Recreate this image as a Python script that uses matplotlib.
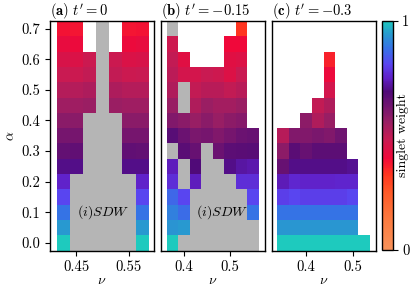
import numpy as np
import matplotlib
matplotlib.use("Agg")
import matplotlib.pyplot as plt
from matplotlib.colors import LinearSegmentedColormap, ListedColormap

plt.rcParams['font.family'] = ['cmr10']
plt.rcParams['mathtext.fontset'] = 'cm'
plt.rcParams['axes.unicode_minus'] = False
plt.rcParams['font.size'] = 10
plt.rcParams['axes.formatter.use_mathtext'] = True

G = -1.0      # (i)SDW
W = np.nan    # no data

alpha = [0.0, 0.05, 0.1, 0.15, 0.2, 0.25, 0.3, 0.35, 0.4, 0.45, 0.5, 0.55, 0.6, 0.65, 0.7]

nu_a = [0.425, 0.45, 0.475, 0.5, 0.525, 0.55, 0.575]
weight_a = [
    [1.00, G, G, G, G, G, 1.00],
    [0.94, G, G, G, G, G, 0.94],
    [0.88, G, G, G, G, G, 0.88],
    [0.81, G, G, G, G, G, 0.81],
    [0.75, G, G, G, G, G, 0.75],
    [0.70, 0.70, G, G, G, 0.70, 0.70],
    [0.655, 0.66, G, G, G, 0.66, 0.655],
    [0.62, 0.62, G, G, G, 0.62, 0.62],
    [0.585, 0.585, G, G, G, 0.585, 0.585],
    [0.55, 0.55, 0.555, G, 0.555, 0.55, 0.55],
    [0.515, 0.515, 0.525, G, 0.525, 0.515, 0.515],
    [0.48, 0.475, 0.49, G, 0.49, 0.475, 0.48],
    [0.45, 0.445, 0.475, G, 0.475, 0.445, 0.45],
    [0.415, 0.41, W, G, W, 0.41, 0.415],
    [0.385, 0.38, W, G, W, 0.38, 0.385],
]

nu_b = [0.375, 0.4, 0.425, 0.45, 0.475, 0.5, 0.525, 0.55]
weight_b = [
    [1.00, G, G, G, G, G, G, G],
    [0.93, 0.94, G, G, G, G, G, G],
    [0.90, 0.87, G, G, G, G, G, 0.88],
    [0.86, 0.81, G, G, G, G, G, 0.81],
    [0.77, G, 0.74, G, G, G, 0.77, 0.77],
    [0.74, G, 0.69, G, G, 0.70, 0.72, 0.73],
    [G, 0.67, 0.645, G, 0.64, 0.665, 0.67, 0.675],
    [0.675, 0.64, 0.61, 0.62, 0.60, 0.62, 0.64, 0.645],
    [0.60, 0.585, 0.56, 0.585, 0.56, 0.58, 0.59, W],
    [0.56, G, 0.52, 0.555, 0.54, 0.54, 0.555, W],
    [0.52, G, 0.49, 0.505, 0.505, 0.49, 0.505, W],
    [0.50, 0.46, 0.46, 0.48, 0.47, 0.44, 0.48, W],
    [0.49, 0.43, W, W, W, 0.43, 0.44, W],
    [0.47, W, W, W, W, 0.40, 0.40, W],
    [G, W, W, W, W, W, 0.33, W],
]

nu_c = [0.35, 0.375, 0.4, 0.425, 0.45, 0.475, 0.5, 0.525]
weight_c = [
    [1.00, 1.00, 1.00, 1.00, 1.00, 1.00, 1.00, 1.00],
    [0.935, 0.935, 0.935, 0.935, 0.935, 0.935, 0.935, W],
    [0.88, 0.88, 0.88, 0.88, 0.88, 0.88, 0.88, W],
    [0.80, 0.81, 0.80, 0.80, 0.80, 0.80, 0.81, W],
    [0.735, 0.76, 0.75, 0.75, 0.75, 0.755, 0.755, W],
    [0.645, 0.70, 0.70, 0.70, 0.70, 0.70, 0.71, W],
    [0.58, 0.67, 0.645, 0.665, 0.665, 0.665, W, W],
    [0.51, 0.60, 0.60, 0.61, 0.60, 0.63, W, W],
    [W, W, 0.58, 0.52, 0.56, W, W, W],
    [W, W, W, 0.49, 0.52, W, W, W],
    [W, W, W, W, 0.46, W, W, W],
    [W, W, W, W, 0.41, W, W, W],
    [W, W, W, W, 0.36, W, W, W],
    [W, W, W, W, W, W, W, W],
    [W, W, W, W, W, W, W, W],
]

titles = [r"$\mathbf{(a)}\ t' = 0$", r"$\mathbf{(b)}\ t' = -0.15$", r"$\mathbf{(c)}\ t' = -0.3$"]
xticks = [[0.45, 0.55], [0.4, 0.5], [0.4, 0.5]]
xticklabels = [["0.45", "0.55"], ["0.4", "0.5"], ["0.4", "0.5"]]
yticks = [0.0, 0.1, 0.2, 0.3, 0.4, 0.5, 0.6, 0.7]
yticklabels = ["0.0", "0.1", "0.2", "0.3", "0.4", "0.5", "0.6", "0.7"]

nodes = [(0.0, '#f8925a'), (0.12, '#fb7d42'), (0.25, '#ff5a28'), (0.33, '#ff3520'),
         (0.40, '#f0083a'), (0.48, '#c81a52'), (0.56, '#981e64'), (0.63, '#701470'),
         (0.69, '#500a78'), (0.75, '#6020c8'), (0.81, '#5a44f0'), (0.88, '#3672e6'),
         (0.94, '#2898d0'), (1.0, '#1ecabe')]
cmap = LinearSegmentedColormap.from_list('sw', nodes)
gray = ListedColormap(['#b5b5b5'])

W_, H_ = 415, 291
fig = plt.figure(figsize=(W_ / 100, H_ / 100), dpi=100)

def ax_rect(x0, x1, y0, y1):
    return [x0 / W_, 1 - y1 / H_, (x1 - x0) / W_, (y1 - y0) / H_]

rects = [ax_rect(50, 154, 21, 250.5), ax_rect(161, 265, 21, 250.5), ax_rect(272, 375.5, 21, 250.5)]
xlims = [(0.4, 0.5975), (0.35, 0.5755), (0.326, 0.5495)]
data = [(nu_a, weight_a), (nu_b, weight_b), (nu_c, weight_c)]
sdw_pos = [(0.5, 0.1), (0.482, 0.1), None]

mesh = None
for i, (nu, wt) in enumerate(data):
    ax = fig.add_axes(rects[i])
    Z = np.array(wt, dtype=float)
    val = np.where(Z < 0, np.nan, Z)
    sdw = np.where(Z < 0, 1.0, np.nan)
    mesh = ax.pcolormesh(nu, alpha, val, shading='nearest', cmap=cmap, vmin=0, vmax=1,
                         linewidth=0, edgecolor='face')
    ax.pcolormesh(nu, alpha, sdw, shading='nearest', cmap=gray, vmin=0, vmax=1,
                  linewidth=0, edgecolor='face')
    ax.set_xlim(*xlims[i])
    ax.set_ylim(-0.025, 0.725)
    ax.set_xticks(xticks[i])
    ax.set_xticklabels(xticklabels[i], fontsize=10.5)
    ax.set_xlabel(r"$\nu$", labelpad=1)
    ax.set_title(titles[i], loc='left', pad=3, fontsize=10.5)
    for s in ax.spines.values():
        s.set_linewidth(1.0)
    if i == 0:
        ax.set_yticks(yticks)
        ax.set_yticklabels(yticklabels, fontsize=10.5)
        ax.set_ylabel(r"$\alpha$", labelpad=3)
    else:
        ax.set_yticks([])
    ax.tick_params(direction='out', length=3.5, width=0.8)
    if sdw_pos[i] is not None:
        ax.text(sdw_pos[i][0], sdw_pos[i][1], r"$(i)SDW$", ha='center', va='center', fontsize=10)

cax = fig.add_axes(ax_rect(382, 392.5, 20.5, 250))
cb = fig.colorbar(mesh, cax=cax, ticks=[0, 1])
cb.ax.set_yticklabels(["0", "1"], fontsize=10.5)
cb.outline.set_linewidth(1.0)
cb.ax.tick_params(length=3.5, width=0.8)
cb.set_label("singlet weight", labelpad=-9, fontsize=10)

fig.savefig("out.png", dpi=100)
